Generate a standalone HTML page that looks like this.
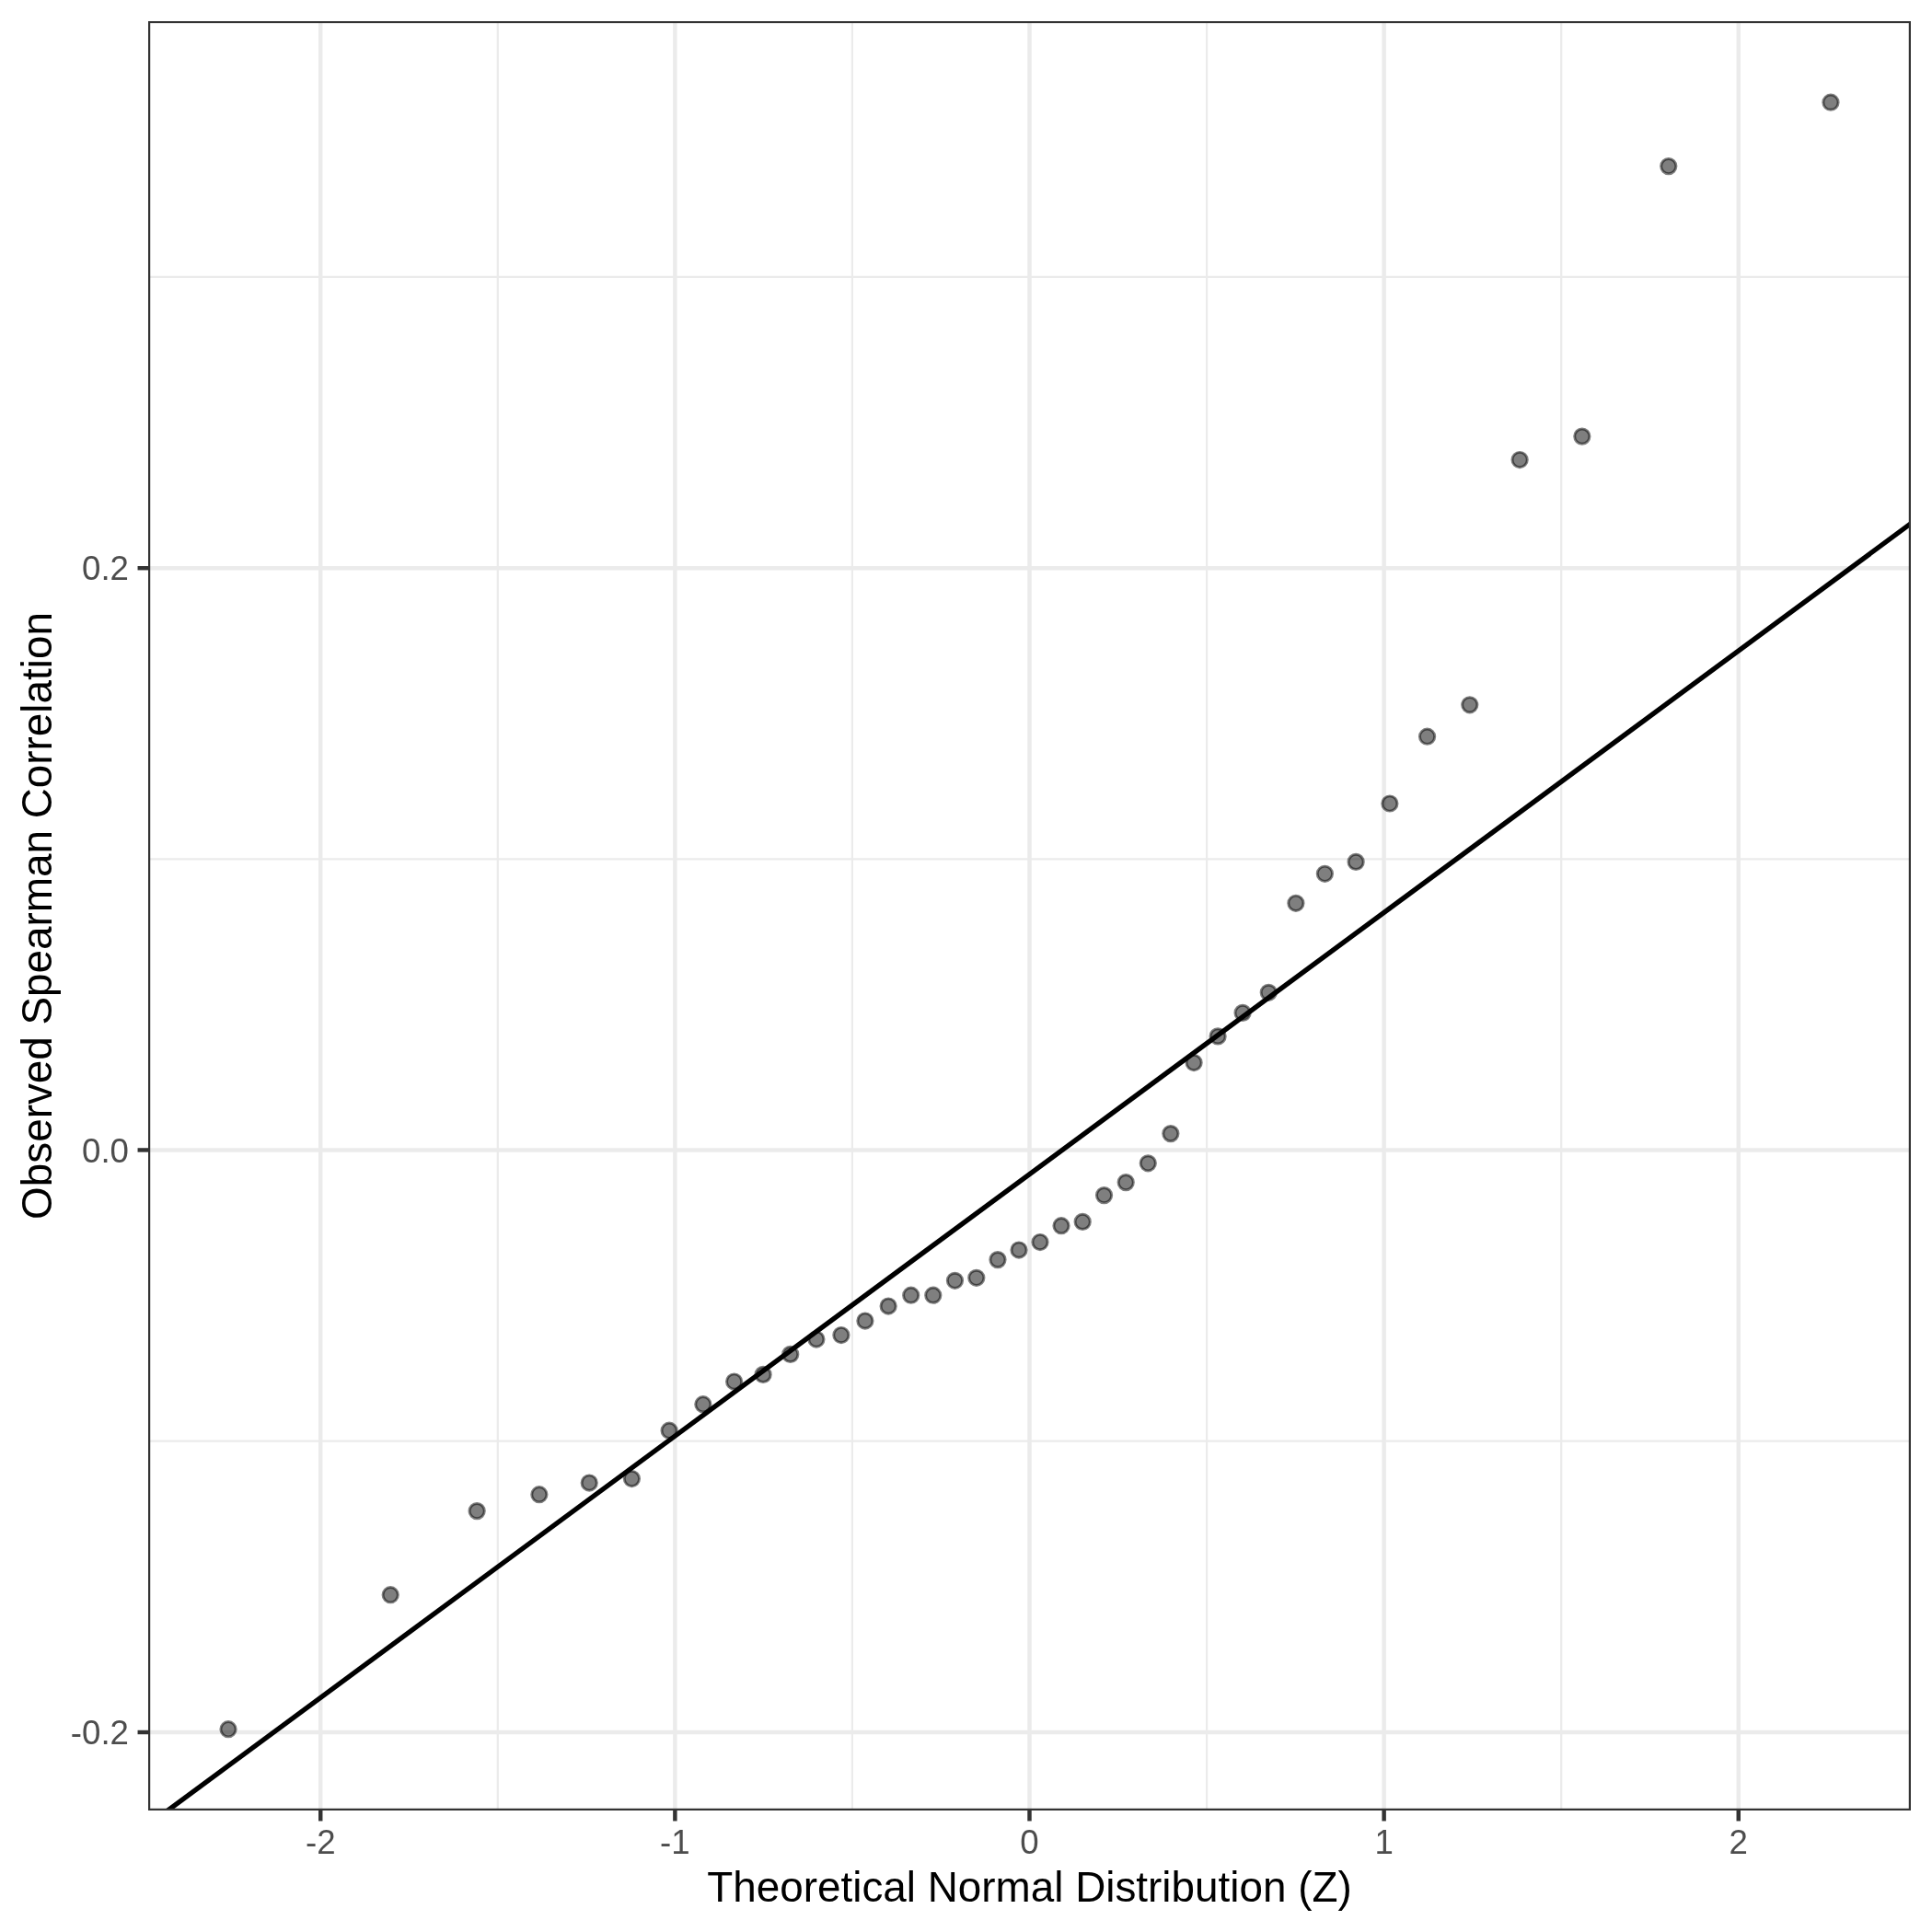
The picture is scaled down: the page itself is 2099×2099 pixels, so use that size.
<!DOCTYPE html>
<html><head><meta charset="utf-8"><title>QQ plot</title>
<style>html,body{margin:0;padding:0;background:#fff}svg{display:block;will-change:transform}text{font-family:"Liberation Sans",sans-serif}</style></head>
<body>
<svg width="2099" height="2099" viewBox="0 0 2099 2099">
<rect width="2099" height="2099" fill="#ffffff"/>
<defs><clipPath id="p"><rect x="161.0" y="22.9" width="1915.0" height="1944.1"/></clipPath></defs>
<g clip-path="url(#p)">
<line x1="161.0" x2="2076.0" y1="1565.70" y2="1565.70" stroke="#EBEBEB" stroke-width="2.22"/>
<line x1="161.0" x2="2076.0" y1="933.30" y2="933.30" stroke="#EBEBEB" stroke-width="2.22"/>
<line x1="161.0" x2="2076.0" y1="300.95" y2="300.95" stroke="#EBEBEB" stroke-width="2.22"/>
<line y1="22.9" y2="1967.0" x1="540.81" x2="540.81" stroke="#EBEBEB" stroke-width="2.22"/>
<line y1="22.9" y2="1967.0" x1="925.93" x2="925.93" stroke="#EBEBEB" stroke-width="2.22"/>
<line y1="22.9" y2="1967.0" x1="1311.07" x2="1311.07" stroke="#EBEBEB" stroke-width="2.22"/>
<line y1="22.9" y2="1967.0" x1="1696.19" x2="1696.19" stroke="#EBEBEB" stroke-width="2.22"/>
<line x1="161.0" x2="2076.0" y1="1882.00" y2="1882.00" stroke="#EBEBEB" stroke-width="4.45"/>
<line x1="161.0" x2="2076.0" y1="1249.45" y2="1249.45" stroke="#EBEBEB" stroke-width="4.45"/>
<line x1="161.0" x2="2076.0" y1="617.20" y2="617.20" stroke="#EBEBEB" stroke-width="4.45"/>
<line y1="22.9" y2="1967.0" x1="348.24" x2="348.24" stroke="#EBEBEB" stroke-width="4.45"/>
<line y1="22.9" y2="1967.0" x1="733.37" x2="733.37" stroke="#EBEBEB" stroke-width="4.45"/>
<line y1="22.9" y2="1967.0" x1="1118.50" x2="1118.50" stroke="#EBEBEB" stroke-width="4.45"/>
<line y1="22.9" y2="1967.0" x1="1503.63" x2="1503.63" stroke="#EBEBEB" stroke-width="4.45"/>
<line y1="22.9" y2="1967.0" x1="1888.76" x2="1888.76" stroke="#EBEBEB" stroke-width="4.45"/>
<g fill="#000" fill-opacity="0.5" stroke="#000" stroke-opacity="0.5" stroke-width="2.95">
<circle cx="248.03" cy="1878.7" r="8.15"/>
<circle cx="424.21" cy="1732.7" r="8.15"/>
<circle cx="518.17" cy="1641.6" r="8.15"/>
<circle cx="585.87" cy="1623.7" r="8.15"/>
<circle cx="640.22" cy="1611.0" r="8.15"/>
<circle cx="686.42" cy="1606.5" r="8.15"/>
<circle cx="727.12" cy="1554.2" r="8.15"/>
<circle cx="763.86" cy="1525.7" r="8.15"/>
<circle cx="797.63" cy="1501.0" r="8.15"/>
<circle cx="829.09" cy="1493.4" r="8.15"/>
<circle cx="858.73" cy="1471.4" r="8.15"/>
<circle cx="886.91" cy="1455.0" r="8.15"/>
<circle cx="913.90" cy="1450.5" r="8.15"/>
<circle cx="939.91" cy="1435.0" r="8.15"/>
<circle cx="965.14" cy="1419.0" r="8.15"/>
<circle cx="989.72" cy="1407.2" r="8.15"/>
<circle cx="1013.79" cy="1407.2" r="8.15"/>
<circle cx="1037.46" cy="1391.3" r="8.15"/>
<circle cx="1060.82" cy="1388.3" r="8.15"/>
<circle cx="1083.98" cy="1368.6" r="8.15"/>
<circle cx="1107.01" cy="1358.0" r="8.15"/>
<circle cx="1129.99" cy="1349.5" r="8.15"/>
<circle cx="1153.02" cy="1331.7" r="8.15"/>
<circle cx="1176.18" cy="1327.4" r="8.15"/>
<circle cx="1199.54" cy="1298.6" r="8.15"/>
<circle cx="1223.21" cy="1284.6" r="8.15"/>
<circle cx="1247.28" cy="1263.8" r="8.15"/>
<circle cx="1271.86" cy="1231.6" r="8.15"/>
<circle cx="1297.09" cy="1154.5" r="8.15"/>
<circle cx="1323.10" cy="1125.9" r="8.15"/>
<circle cx="1350.09" cy="1100.4" r="8.15"/>
<circle cx="1378.27" cy="1078.3" r="8.15"/>
<circle cx="1407.91" cy="981.3" r="8.15"/>
<circle cx="1439.37" cy="949.3" r="8.15"/>
<circle cx="1473.14" cy="936.4" r="8.15"/>
<circle cx="1509.88" cy="873.0" r="8.15"/>
<circle cx="1550.58" cy="800.2" r="8.15"/>
<circle cx="1596.78" cy="765.8" r="8.15"/>
<circle cx="1651.13" cy="499.5" r="8.15"/>
<circle cx="1718.83" cy="474.1" r="8.15"/>
<circle cx="1812.79" cy="180.6" r="8.15"/>
<circle cx="1988.97" cy="111.2" r="8.15"/>
</g>
<line x1="140" y1="1998.15" x2="2095" y2="554.78" stroke="#000" stroke-width="5.33"/>
<rect x="161.0" y="22.9" width="1915.0" height="1944.1" fill="none" stroke="#333333" stroke-width="4.45"/>
</g>
<line x1="348.24" x2="348.24" y1="1967.0" y2="1978.46" stroke="#333333" stroke-width="4.45"/>
<line x1="733.37" x2="733.37" y1="1967.0" y2="1978.46" stroke="#333333" stroke-width="4.45"/>
<line x1="1118.50" x2="1118.50" y1="1967.0" y2="1978.46" stroke="#333333" stroke-width="4.45"/>
<line x1="1503.63" x2="1503.63" y1="1967.0" y2="1978.46" stroke="#333333" stroke-width="4.45"/>
<line x1="1888.76" x2="1888.76" y1="1967.0" y2="1978.46" stroke="#333333" stroke-width="4.45"/>
<line y1="1882.00" y2="1882.00" x1="149.54" x2="161.0" stroke="#333333" stroke-width="4.45"/>
<line y1="1249.45" y2="1249.45" x1="149.54" x2="161.0" stroke="#333333" stroke-width="4.45"/>
<line y1="617.20" y2="617.20" x1="149.54" x2="161.0" stroke="#333333" stroke-width="4.45"/>
<g font-size="36.67" fill="#4D4D4D">
<text x="348.24" y="2013.8" text-anchor="middle">-2</text>
<text x="733.37" y="2013.8" text-anchor="middle">-1</text>
<text x="1118.50" y="2013.8" text-anchor="middle">0</text>
<text x="1503.63" y="2013.8" text-anchor="middle">1</text>
<text x="1888.76" y="2013.8" text-anchor="middle">2</text>
<text x="140.0" y="1895.10" text-anchor="end">-0.2</text>
<text x="140.0" y="1262.55" text-anchor="end">0.0</text>
<text x="140.0" y="630.30" text-anchor="end">0.2</text>
</g>
<text x="1118.5" y="2066.2" font-size="45.83" fill="#000" text-anchor="middle">Theoretical Normal Distribution (Z)</text>
<text transform="translate(56.2,995) rotate(-90)" font-size="45.83" fill="#000" text-anchor="middle">Observed Spearman Correlation</text>
</svg>
</body></html>
